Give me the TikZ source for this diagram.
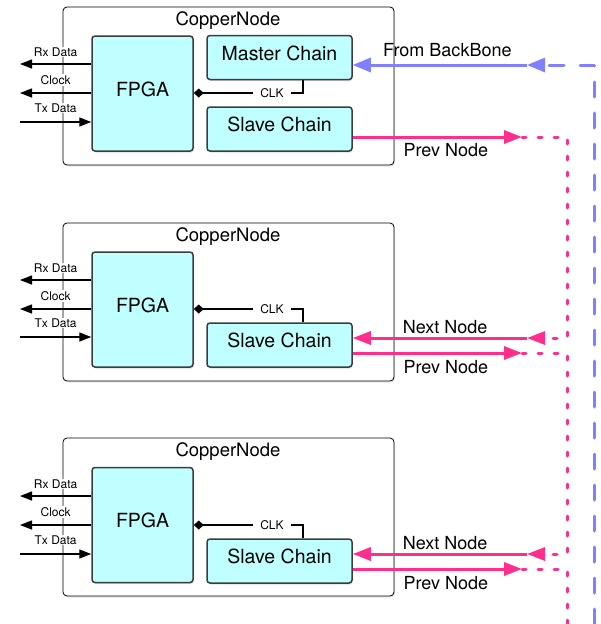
\documentclass[tikz,border=0pt]{standalone}
\usepackage{fontspec}
\setmainfont{TeX Gyre Heros}
\usetikzlibrary{arrows.meta,positioning,shadows}

\definecolor{chipfill}{RGB}{191,255,255}
\definecolor{chipedge}{RGB}{60,60,60}
\definecolor{linkpink}{RGB}{255,45,140}
\definecolor{linkblue}{RGB}{128,128,255}

\tikzset{
  copper/.style={draw=black,line width=0.8pt,rounded corners=4pt,fill=white,
    minimum width=331pt,minimum height=158pt,inner sep=0pt,
    drop shadow={shadow xshift=1pt,shadow yshift=-1.5pt,opacity=.2}},
  title/.style={font=\fontsize{18.5}{22}\selectfont},
  chip/.style={draw=chipedge,line width=1.5pt,rounded corners=3pt,fill=chipfill,
    inner sep=0pt,text height=14pt,text depth=8.4pt,font=\fontsize{19.5}{22}\selectfont,
    drop shadow={shadow xshift=1pt,shadow yshift=-1.5pt,opacity=.25}},
  fpga/.style={chip,minimum width=101pt,minimum height=115pt},
  chain/.style={chip,minimum width=145pt,minimum height=44pt},
  small/.style={font=\fontsize{12}{14}\selectfont,fill=white,inner sep=1pt},
  linklabel/.style={font=\fontsize{18}{21}\selectfont,inner sep=0pt},
  sig/.style={line width=1.4pt,-{Triangle[length=12pt,width=9pt]}},
  clk/.style={line width=1.4pt,-{Diamond[length=10pt,width=9pt]}},
  pinkline/.style={draw=linkpink,line width=3pt,
    -{Triangle[length=18pt,width=13pt,color=linkpink]}},
  pinkdots/.style={draw=linkpink,line width=3pt,line cap=round,line join=round,
    dash pattern=on 4pt off 12pt},
  pinkdotstip/.style={pinkdots,-{Triangle[length=18pt,width=13pt,color=linkpink,line cap=butt]}},
  blueline/.style={draw=linkblue,line width=3pt,
    -{Triangle[length=18pt,width=14pt,color=linkblue]}},
  bluedash/.style={draw=linkblue,line width=3pt,line cap=round,line join=round,
    dash pattern=on 15pt off 16pt,
    -{Triangle[length=18pt,width=14pt,color=linkblue,line cap=butt]}},
}

\begin{document}
\begin{tikzpicture}[x=1pt,y=-1pt]
  \useasboundingbox (0,0) rectangle (600,624);

  % CopperNode 1 (master)
  \node[copper] (cn1) at (228.5,86) {};
  \node[title] (t1) at (228,21) {CopperNode};
  \node[fpga] (fpga1) at (142.5,93.5) {FPGA};
  \node[chain] (mc1) at (279.5,57.5) {Master Chain};
  \node[chain] (sc1) at (279.5,129) {Slave Chain};
  \coordinate (rx1) at (20,64);
  \coordinate (ck1) at (20,93);
  \coordinate (tx1) at (20,122);
  \draw[sig] (fpga1.west |- rx1) -- node[small,yshift=12pt] {Rx Data} (rx1);
  \draw[sig] (fpga1.west |- ck1) -- node[small,yshift=13pt] {Clock} (ck1);
  \draw[sig] (tx1) -- node[small,yshift=14pt] {Tx Data} (fpga1.west |- tx1);
  \node[small,inner xsep=7pt] (clk1) at (272,93) {CLK};
  \coordinate (cb1) at (303,93);
  \draw[line width=1.4pt] (mc1.south -| cb1) -- (cb1) -- (clk1);
  \draw[clk] (clk1) -- (fpga1.east |- cb1);

  % CopperNode 2
  \node[copper] (cn2) at (228.5,302) {};
  \node[title] (t2) at (228,237) {CopperNode};
  \node[fpga] (fpga2) at (142.5,309.5) {FPGA};
  \node[chain] (sc2) at (279.5,345) {Slave Chain};
  \coordinate (rx2) at (20,280);
  \coordinate (ck2) at (20,309);
  \coordinate (tx2) at (20,337);
  \draw[sig] (fpga2.west |- rx2) -- node[small,yshift=12pt] {Rx Data} (rx2);
  \draw[sig] (fpga2.west |- ck2) -- node[small,yshift=13pt] {Clock} (ck2);
  \draw[sig] (tx2) -- node[small,yshift=14pt] {Tx Data} (fpga2.west |- tx2);
  \node[small,inner xsep=7pt] (clk2) at (272,309) {CLK};
  \coordinate (cb2) at (303,309);
  \draw[line width=1.4pt] (sc2.north -| cb2) -- (cb2) -- (clk2);
  \draw[clk] (clk2) -- (fpga2.east |- cb2);

  % CopperNode 3
  \node[copper] (cn3) at (228.5,517) {};
  \node[title] (t3) at (228,452) {CopperNode};
  \node[fpga] (fpga3) at (142.5,525) {FPGA};
  \node[chain] (sc3) at (279.5,561) {Slave Chain};
  \coordinate (rx3) at (20,496);
  \coordinate (ck3) at (20,525);
  \coordinate (tx3) at (20,554);
  \draw[sig] (fpga3.west |- rx3) -- node[small,yshift=12pt] {Rx Data} (rx3);
  \draw[sig] (fpga3.west |- ck3) -- node[small,yshift=13pt] {Clock} (ck3);
  \draw[sig] (tx3) -- node[small,yshift=14pt] {Tx Data} (fpga3.west |- tx3);
  \node[small,inner xsep=7pt] (clk3) at (272,525) {CLK};
  \coordinate (cb3) at (303,525);
  \draw[line width=1.4pt] (sc3.north -| cb3) -- (cb3) -- (clk3);
  \draw[clk] (clk3) -- (fpga3.east |- cb3);

  % backbone
  \coordinate (bb) at (527,65);
  \coordinate (bbx) at (594,0);
  \coordinate (bbend) at (594,624);
  \draw[bluedash] (bbend) -- (bbx |- bb) -- (bb);
  \draw[blueline] (bb) -- node[linklabel,pos=.457,yshift=15pt] {From BackBone} (mc1.east |- bb);

  % daisy chain between the slave chains
  \coordinate (drop) at (567,0);
  \coordinate (dropend) at (567,624);
  \coordinate (p1) at (522,137);
  \coordinate (n2) at (527,338);
  \coordinate (p2) at (522,353);
  \coordinate (n3) at (527,554);
  \coordinate (p3) at (522,569);
  \draw[pinkline] (sc1.east |- p1) -- node[linklabel,pos=.55,yshift=-13pt] {Prev Node} (p1);
  \draw[pinkdotstip] (p1) -- (p1 -| drop) -- (n2 -| drop) -- (n2);
  \draw[pinkline] (n2) -- node[linklabel,pos=.47,yshift=11pt] {Next Node} (sc2.east |- n2);
  \draw[pinkline] (sc2.east |- p2) -- node[linklabel,pos=.55,yshift=-14pt] {Prev Node} (p2);
  \draw[pinkdotstip] (p2) -- (p2 -| drop) -- (n3 -| drop) -- (n3);
  \draw[pinkline] (n3) -- node[linklabel,pos=.47,yshift=11pt] {Next Node} (sc3.east |- n3);
  \draw[pinkline] (sc3.east |- p3) -- node[linklabel,pos=.55,yshift=-14pt] {Prev Node} (p3);
  \draw[pinkdots] (p3) -- (p3 -| drop) -- (dropend);
\end{tikzpicture}
\end{document}
